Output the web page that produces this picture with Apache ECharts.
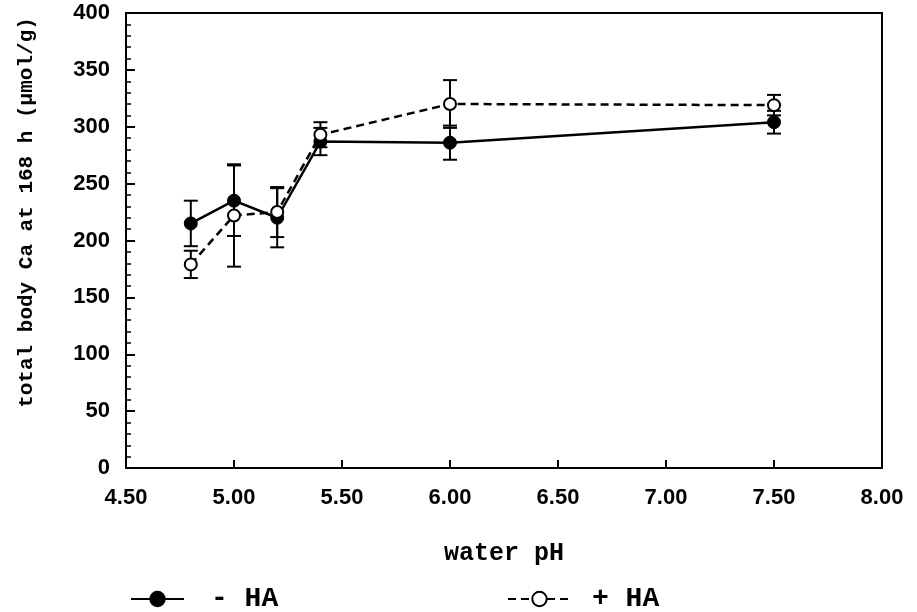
<!DOCTYPE html>
<html>
<head>
<meta charset="utf-8">
<script src="https://cdn.jsdelivr.net/npm/echarts@6/dist/echarts.min.js"></script>
<style>html,body{margin:0;padding:0;background:#fff;}#c{width:917px;height:612px;}</style>
</head>
<body>
<div id="c"></div>
<script>
// ---- data ----
var phValues = [4.8, 5.0, 5.2, 5.4, 6.0, 7.5];
var minusHA = [215, 235, 220, 287, 286, 304];
var minusHAErr = [20, 31, 26, 12, 15, 10];
var plusHA = [179, 222, 225, 293, 320, 319];
var plusHAErr = [12, 45, 22, 11, 21, 9];
var xTicks = [4.5, 5.0, 5.5, 6.0, 6.5, 7.0, 7.5, 8.0];
var yTicks = [0, 50, 100, 150, 200, 250, 300, 350, 400];
var seriesNames = ['- HA', '+ HA'];
var xTitle = 'water pH';
var yTitle = 'total body Ca at 168 h (\u00b5mol/g)';

function pts(ys) { return phValues.map(function (x, i) { return [x, ys[i]]; }); }
function errPts(ys, es) { return phValues.map(function (x, i) { return [x, ys[i] - es[i], ys[i] + es[i]]; }); }

var mono = '"Liberation Mono", "DejaVu Sans Mono", monospace';
var sans = '"Liberation Sans", Arial, sans-serif';

function errRender(params, api) {
  var x = api.value(0), lo = api.value(1), hi = api.value(2);
  var pLo = api.coord([x, lo]), pHi = api.coord([x, hi]);
  var w = 7;
  var st = { stroke: '#000', lineWidth: 2 };
  return {
    type: 'group',
    children: [
      { type: 'line', shape: { x1: pLo[0], y1: pLo[1], x2: pHi[0], y2: pHi[1] }, style: st },
      { type: 'line', shape: { x1: pLo[0] - w, y1: pLo[1], x2: pLo[0] + w, y2: pLo[1] }, style: st },
      { type: 'line', shape: { x1: pHi[0] - w, y1: pHi[1], x2: pHi[0] + w, y2: pHi[1] }, style: st }
    ]
  };
}

var chart = echarts.init(document.getElementById('c'));
chart.setOption({
  animation: false,
  backgroundColor: '#fff',
  grid: { left: 126, right: 35, top: 13, bottom: 144, show: true, borderColor: '#000', borderWidth: 2,
    backgroundColor: 'transparent', containLabel: false, outerBoundsMode: 'none' },
  xAxis: {
    type: 'value', min: xTicks[0], max: xTicks[xTicks.length - 1], interval: 0.5,
    name: xTitle, nameLocation: 'middle', nameGap: 73,
    nameTextStyle: { fontFamily: mono, fontWeight: 'bold', fontSize: 25, color: '#000' },
    axisLine: { show: true, lineStyle: { color: '#000', width: 2 } },
    axisTick: { show: true, inside: true, length: 8, lineStyle: { color: '#000', width: 2 } },
    axisLabel: { margin: 19, fontFamily: sans, fontWeight: 'bold', fontSize: 22, color: '#000',
      formatter: function (v) { return v.toFixed(2); } },
    splitLine: { show: false }
  },
  yAxis: {
    type: 'value', min: yTicks[0], max: yTicks[yTicks.length - 1], interval: 50,
    name: yTitle, nameLocation: 'middle', nameGap: 89,
    nameTextStyle: { fontFamily: mono, fontWeight: 'bold', fontSize: 21, color: '#000', padding: [0, 0, 0, 56] },
    axisLine: { show: true, lineStyle: { color: '#000', width: 2 } },
    axisTick: { show: true, inside: true, length: 9, lineStyle: { color: '#000', width: 2 } },
    minorTick: { show: true, splitNumber: 5, length: 5, lineStyle: { color: '#000', width: 1.5 } },
    axisLabel: { margin: 16, fontFamily: sans, fontWeight: 'bold', fontSize: 22, color: '#000' },
    splitLine: { show: false }
  },
  legend: [
    { data: [seriesNames[0]], left: 125, top: 580, itemWidth: 53, itemHeight: 18,
      textStyle: { fontFamily: mono, fontWeight: 'bold', fontSize: 28, color: '#000', padding: [0, 0, 0, 22] } },
    { data: [seriesNames[1]], left: 502, top: 580, itemWidth: 63, itemHeight: 18,
      textStyle: { fontFamily: mono, fontWeight: 'bold', fontSize: 28, color: '#000', padding: [0, 0, 0, 16] } }
  ],
  series: [
    { type: 'custom', name: 'err-', renderItem: errRender, data: errPts(minusHA, minusHAErr), z: 1, silent: true, encode: { x: 0, y: [1, 2] } },
    { type: 'custom', name: 'err+', renderItem: errRender, data: errPts(plusHA, plusHAErr), z: 1, silent: true, encode: { x: 0, y: [1, 2] } },
    { type: 'line', name: seriesNames[0], data: pts(minusHA), z: 3,
      symbol: 'circle', symbolSize: 13,
      lineStyle: { color: '#000', width: 2.5, type: 'solid' },
      itemStyle: { color: '#000', borderColor: '#000', borderWidth: 1 } },
    { type: 'line', name: seriesNames[1], data: pts(plusHA), z: 4,
      symbol: 'circle', symbolSize: 12,
      lineStyle: { color: '#000', width: 2.5, type: [8, 5] },
      itemStyle: { color: '#fff', borderColor: '#000', borderWidth: 2 } }
  ]
});
</script>
</body>
</html>
